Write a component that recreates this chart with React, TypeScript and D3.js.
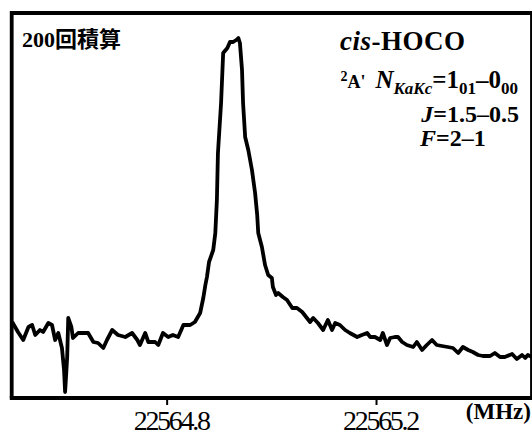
import * as d3 from 'd3';
import { useEffect, useRef } from 'react';

// spectrum (frequency in MHz, intensity in arb. units)
const freqMHz = [
    22564.505, 22564.516, 22564.526, 22564.536, 22564.543, 22564.549, 22564.558, 22564.564, 22564.574, 22564.581,
    22564.587, 22564.593, 22564.600, 22564.604, 22564.606, 22564.608, 22564.610, 22564.612, 22564.618, 22564.621,
    22564.631, 22564.650, 22564.660, 22564.669, 22564.679, 22564.686, 22564.696, 22564.707, 22564.721, 22564.734,
    22564.744, 22564.749, 22564.759, 22564.765, 22564.778, 22564.784, 22564.793, 22564.803, 22564.812, 22564.822,
    22564.832, 22564.845, 22564.854, 22564.864, 22564.870, 22564.874, 22564.877, 22564.881, 22564.889, 22564.893,
    22564.896, 22564.898, 22564.904, 22564.908, 22564.916, 22564.921, 22564.927, 22564.933, 22564.937, 22564.940,
    22564.944, 22564.946, 22564.950, 22564.956, 22564.963, 22564.969, 22564.973, 22564.975, 22564.982, 22564.988,
    22564.994, 22565.001, 22565.003, 22565.009, 22565.013, 22565.022, 22565.030, 22565.040, 22565.049, 22565.059,
    22565.068, 22565.074, 22565.080, 22565.089, 22565.099, 22565.108, 22565.116, 22565.122, 22565.131, 22565.141,
    22565.150, 22565.164, 22565.173, 22565.183, 22565.189, 22565.198, 22565.208, 22565.213, 22565.221, 22565.227,
    22565.236, 22565.242, 22565.250, 22565.259, 22565.271, 22565.278, 22565.288, 22565.297, 22565.307, 22565.316,
    22565.326, 22565.337, 22565.347, 22565.357, 22565.366, 22565.376, 22565.385, 22565.395, 22565.404, 22565.418,
    22565.427, 22565.437, 22565.446, 22565.460, 22565.469, 22565.479, 22565.485, 22565.490, 22565.498
];

const intensity = [
    3.3, 2.3, 1.5, 2.8, 3.0, 2.0, 2.5, 2.3, 3.2, 3.0,
    1.5, 2.2, 0.7, -1.5, -3.7, -2.0, -0.2, 3.7, 2.8, 1.7,
    2.2, 2.2, 1.3, 1.2, 0.7, 1.5, 2.5, 2.0, 1.8, 2.2,
    1.5, 1.0, 2.2, 1.3, 1.3, 1.0, 2.2, 1.8, 2.0, 1.8,
    3.0, 3.0, 3.3, 4.2, 5.7, 7.0, 7.8, 9.3, 10.5, 12.2,
    15.5, 20.2, 25.2, 30.2, 30.7, 31.3, 31.3, 31.5, 31.7, 31.2,
    28.5, 25.2, 21.8, 20.5, 18.5, 16.2, 14.0, 12.2, 10.8, 9.0,
    8.0, 7.7, 6.8, 6.0, 6.2, 5.8, 5.5, 4.7, 4.7, 4.3,
    3.7, 3.3, 3.7, 3.2, 2.5, 3.5, 2.5, 3.2, 3.0, 2.5,
    2.2, 1.8, 2.0, 2.2, 1.8, 1.8, 1.5, 2.2, 1.0, 1.7,
    1.8, 1.8, 1.3, 1.0, 0.8, 1.3, 0.5, 1.0, 1.5, 1.0,
    0.9, 0.8, 0.7, 0.2, 0.8, 0.5, 0.3, 0.0, -0.1, -0.1,
    0.2, -0.2, -0.2, 0.1, -0.4, 0.0, -0.3, 0.0, -0.2
];

const xDomain = [22564.504, 22565.498];
const yDomain = [-4.3, 34.2];
const tickValues = [22564.8, 22565.2];
const unitLabel = '(MHz)';
const scanLabel = '200回積算';

// right-hand annotation lines, pieces as [text, size, italic, dx, dy]
const stateLine = [
    ['2', 14, false, 0, -7],
    ["A'", 18, false, 0, 7],
    ['N', 25, true, 10, 0],
    ['KaKc', 17, true, 0, 6],
    ['=1', 25, false, 0, -6],
    ['01', 17, false, 0, 6],
    ['–0', 25, false, 0, -6],
    ['00', 17, false, 0, 6]
];
const jLine = [['J', 24, true, 0, 0], ['=1.5–0.5', 24, false, 0, 0]];
const fLine = [['F', 24, true, 0, 0], ['=2–1', 24, false, 0, 0]];

export default function App() {

    const ref = useRef<HTMLDivElement>(null);

    useEffect(() => {
        document.body.style.margin = '0';

        const width = 532;
        const height = 432;
        const frame = { left: 11.7, right: 532, top: 13, bottom: 398 };
        const serif = '"Liberation Serif", "Times New Roman", serif';
        const stroke = 3.8;

        const svg = d3
            .create('svg')
            .attr('width', width)
            .attr('height', height)
            .style('display', 'block')
            .style('background', '#fff');

        ref.current!.innerHTML = '';
        ref.current!.append(svg.node()!);

        const xScale = d3.scaleLinear().domain(xDomain).range([frame.left, frame.right]);
        const yScale = d3.scaleLinear().domain(yDomain).range([frame.bottom, frame.top]);

        // frame (left, top, right)
        svg
            .append('path')
            .attr('d', `M${frame.left},${frame.bottom}V${frame.top}H${frame.right}V${frame.bottom}`)
            .attr('fill', 'none')
            .attr('stroke', '#000')
            .attr('stroke-width', stroke);

        const xAxis = d3
            .axisBottom(xScale)
            .tickValues(tickValues)
            .tickFormat(d3.format('.1f'))
            .tickSizeInner(7)
            .tickSizeOuter(0);

        const gx = svg
            .append('g')
            .attr('transform', `translate(0,${frame.bottom})`)
            .call(xAxis);

        gx.select('.domain').attr('stroke-width', stroke).attr('d', `M${frame.left - 1.9},0H${frame.right}`);
        gx.selectAll('.tick line').attr('stroke-width', 2);
        gx.selectAll('.tick text')
            .attr('font-family', serif)
            .attr('font-size', 28)
            .attr('letter-spacing', -2.3)
            .attr('fill', '#000')
            .attr('dx', 4)
            .attr('y', 32)
            .attr('dy', 0);

        svg
            .append('text')
            .attr('x', 531)
            .attr('y', 419)
            .attr('text-anchor', 'end')
            .attr('font-family', serif)
            .attr('font-weight', 'bold')
            .attr('font-size', 23)
            .text(unitLabel);

        const line = d3
            .line<number>()
            .x((d, i) => xScale(freqMHz[i]))
            .y(d => yScale(d));

        svg
            .append('path')
            .datum(intensity)
            .attr('d', line)
            .attr('fill', 'none')
            .attr('stroke', '#000')
            .attr('stroke-width', stroke)
            .attr('stroke-linejoin', 'round');

        svg
            .append('text')
            .attr('x', 22)
            .attr('y', 47)
            .attr('font-family', '"Liberation Serif", "Noto Sans CJK JP"')
            .attr('font-weight', 'bold')
            .attr('font-size', 22)
            .text(scanLabel);

        const title = svg
            .append('text')
            .attr('x', 340)
            .attr('y', 50)
            .attr('font-family', serif)
            .attr('font-weight', 'bold')
            .attr('font-size', 27)
            .attr('letter-spacing', 0.5);
        title.append('tspan').attr('font-style', 'italic').text('cis');
        title.append('tspan').text('-HOCO');

        const richText = (parts: any[], x: number, y: number, anchor: string) => {
            const t = svg
                .append('text')
                .attr('x', x)
                .attr('y', y)
                .attr('text-anchor', anchor)
                .attr('font-family', serif)
                .attr('font-weight', 'bold');
            parts.forEach(([txt, size, italic, dx, dy]) => {
                t.append('tspan')
                    .attr('font-size', size)
                    .attr('font-style', italic ? 'italic' : 'normal')
                    .attr('dx', dx)
                    .attr('dy', dy)
                    .text(txt);
            });
        };

        richText(stateLine, 518, 88, 'end');
        richText(jLine, 519, 122, 'end');
        richText(fLine, 420, 146, 'start');

    }, []);

    return <div ref={ref}></div>;
}
